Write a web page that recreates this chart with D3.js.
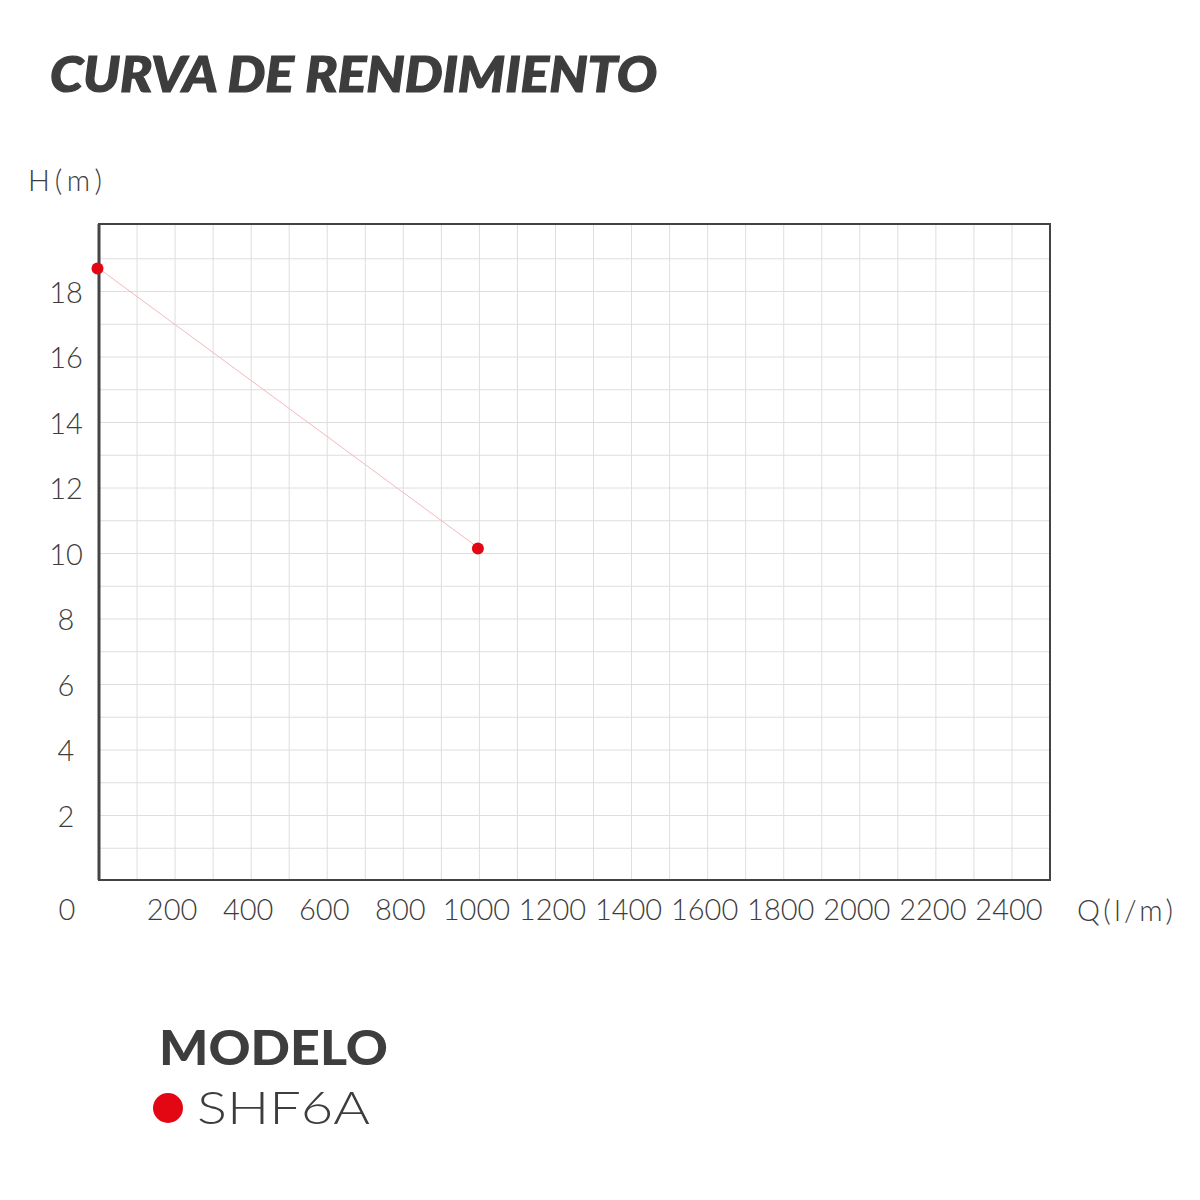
<!DOCTYPE html>
<html>
<head>
<meta charset="utf-8">
<script src="https://cdn.jsdelivr.net/npm/d3@7"></script>
<style>
  html, body { margin: 0; padding: 0; background: #fff; }
  svg { display: block; }
</style>
</head>
<body>
<svg id="chart" width="1200" height="1200"></svg>
<script>
// ---- data ----
const flowValues = [0, 1000];          // Q (l/m)
const headValues = [18.7, 10.15];      // H (m)
const xTickLabels = [200, 400, 600, 800, 1000, 1200, 1400, 1600, 1800, 2000, 2200, 2400];
const yTickLabels = [2, 4, 6, 8, 10, 12, 14, 16, 18];
const seriesNames = ["SHF6A"];
const titleText = "CURVA DE RENDIMIENTO";
const legendTitle = "MODELO";

// ---- layout ----
const svg = d3.select("#chart");
const plotL = 99, plotR = 1050, plotT = 224, plotB = 880;
const textColor = "#3d3d3d";
const red = "#e30613";

const x = d3.scaleLinear().domain([0, 2500]).range([plotL, plotR]);
const y = d3.scaleLinear().domain([0, 20]).range([881, 226]);

// title
svg.append("text")
  .attr("x", 50).attr("y", 92)
  .attr("font-family", "Lato, 'Open Sans', sans-serif")
  .attr("font-weight", 900).attr("font-style", "italic")
  .attr("font-size", 49)
  .attr("fill", textColor)
  .attr("stroke", textColor).attr("stroke-width", 1.2)
  .attr("textLength", 607).attr("lengthAdjust", "spacingAndGlyphs")
  .text(titleText);

// grid
const g = svg.append("g");
const xGrid = d3.range(100, 2500, 100);
const yGrid = d3.range(1, 20, 1);
g.selectAll("line.vg").data(xGrid).join("line")
  .attr("x1", d => x(d)).attr("x2", d => x(d))
  .attr("y1", plotT).attr("y2", plotB)
  .attr("stroke", "#dedede").attr("stroke-width", 1);
g.selectAll("line.hg").data(yGrid).join("line")
  .attr("x1", plotL).attr("x2", plotR)
  .attr("y1", d => y(d)).attr("y2", d => y(d))
  .attr("stroke", "#dedede").attr("stroke-width", 1);

// frame
svg.append("rect")
  .attr("x", plotL).attr("y", plotT)
  .attr("width", plotR - plotL).attr("height", plotB - plotT)
  .attr("fill", "none").attr("stroke", "#444").attr("stroke-width", 2);
svg.append("line").attr("x1", plotL).attr("x2", plotL).attr("y1", plotT).attr("y2", plotB)
  .attr("stroke", "#444").attr("stroke-width", 3);

// axis labels
const tickFont = "Lato, 'Open Sans', sans-serif";
svg.selectAll("text.xt").data(xTickLabels).join("text")
  .attr("x", d => x(d) - 3).attr("y", 920)
  .attr("text-anchor", "middle")
  .attr("font-family", tickFont).attr("font-weight", 300)
  .attr("font-size", 29).attr("fill", textColor)
  .text(d => d);
svg.selectAll("text.yt").data(yTickLabels).join("text")
  .attr("x", 66).attr("y", d => y(d) + 11)
  .attr("text-anchor", "middle")
  .attr("font-family", tickFont).attr("font-weight", 300)
  .attr("font-size", 29).attr("fill", textColor)
  .text(d => d);
svg.append("text")
  .attr("x", 67).attr("y", 920).attr("text-anchor", "middle")
  .attr("font-family", tickFont).attr("font-weight", 300)
  .attr("font-size", 29).attr("fill", textColor)
  .text("0");
svg.append("text")
  .attr("x", 28).attr("y", 191)
  .attr("font-family", tickFont).attr("font-weight", 300)
  .attr("font-size", 29).attr("fill", textColor)
  .attr("textLength", 74).attr("lengthAdjust", "spacing")
  .text("H(m)");
svg.append("text")
  .attr("x", 1077).attr("y", 921)
  .attr("font-family", tickFont).attr("font-weight", 300)
  .attr("font-size", 29).attr("fill", textColor)
  .attr("textLength", 96).attr("lengthAdjust", "spacing")
  .text("Q(l/m)");

// series
const pts = flowValues.map((q, i) => [q, headValues[i]]);
svg.append("path")
  .datum(pts)
  .attr("d", d3.line().x(d => x(d[0])).y(d => y(d[1])))
  .attr("fill", "none").attr("stroke", "#f5b8bd").attr("stroke-width", 1);
svg.selectAll("circle.pt").data(pts).join("circle")
  .attr("cx", d => x(d[0]) - 1.5).attr("cy", d => y(d[1]))
  .attr("r", 6).attr("fill", red);

// legend
svg.append("text")
  .attr("x", 159).attr("y", 1065)
  .attr("font-family", "Lato, 'Open Sans', sans-serif")
  .attr("font-weight", 900).attr("font-size", 48)
  .attr("fill", textColor)
  .attr("textLength", 229).attr("lengthAdjust", "spacingAndGlyphs")
  .text(legendTitle);
svg.selectAll("circle.lg").data(seriesNames).join("circle")
  .attr("cx", 168).attr("cy", 1108).attr("r", 15).attr("fill", red);
svg.selectAll("text.lg").data(seriesNames).join("text")
  .attr("x", 197).attr("y", 1124)
  .attr("font-family", "Lato, 'Open Sans', sans-serif")
  .attr("font-weight", 300).attr("font-size", 46)
  .attr("fill", textColor)
  .attr("textLength", 173).attr("lengthAdjust", "spacingAndGlyphs")
  .text(d => d);
</script>
</body>
</html>
